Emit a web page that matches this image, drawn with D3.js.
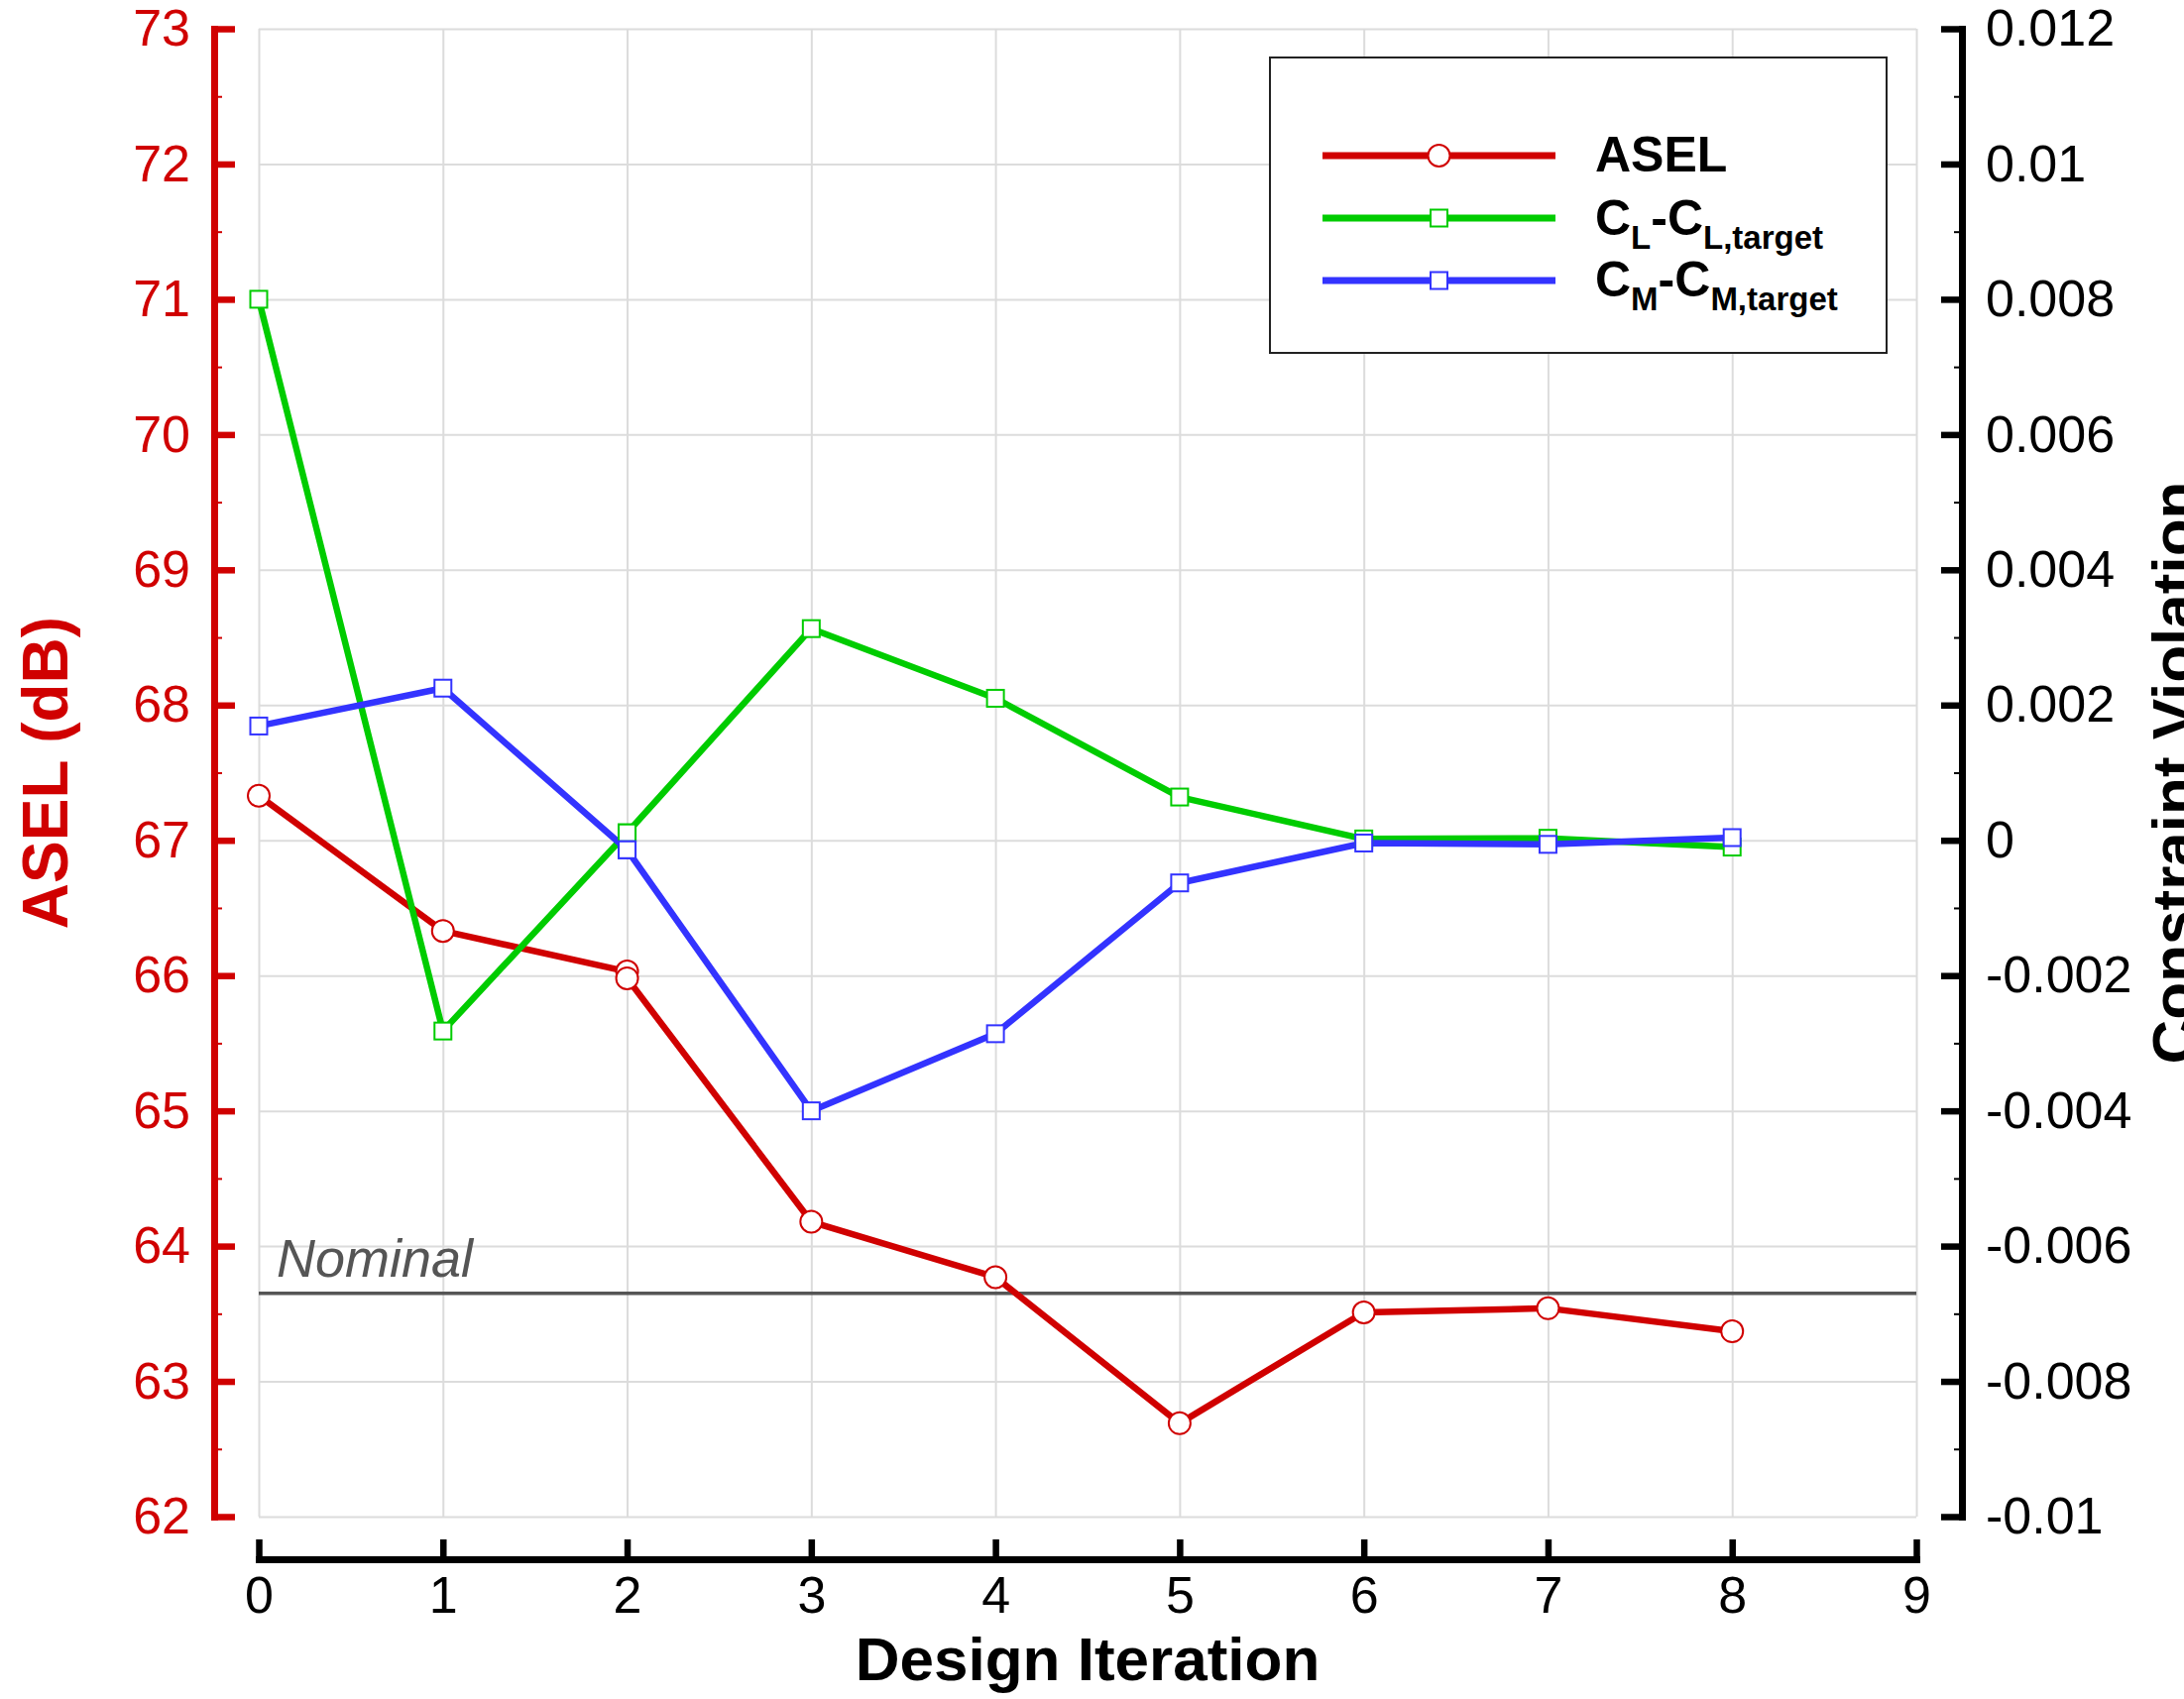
<!DOCTYPE html>
<html><head><meta charset="utf-8">
<script src="https://cdn.jsdelivr.net/npm/d3@7"></script>
<style>
body{margin:0;background:#fff;}
svg{display:block;font-family:"Liberation Sans",Arial,Helvetica,sans-serif;}
</style>
</head><body>
<svg id="chart" width="2203" height="1714"></svg>
<script>
// ---------- data ----------
const iterations = [0, 1, 2, 2, 3, 4, 5, 6, 7, 8];
const aselValues = [67.33, 66.33, 66.03, 65.98, 64.18, 63.77, 62.69, 63.51, 63.54, 63.37];
const clValues   = [0.0080, -0.00282, 0.00011, 0.00011, 0.00313, 0.00210, 0.00064, 0.00002, 0.00003, -0.00010];
const cmValues   = [0.00169, 0.00225, -0.00014, -0.00014, -0.00400, -0.00286, -0.00063, -0.00004, -0.00006, 0.00004];
const nominalAsel = 63.65;

const xTicks = [0, 1, 2, 3, 4, 5, 6, 7, 8, 9];
const leftTicks = [62, 63, 64, 65, 66, 67, 68, 69, 70, 71, 72, 73];
const leftMinorTicks = [62.5, 63.5, 64.5, 65.5, 66.5, 67.5, 68.5, 69.5, 70.5, 71.5, 72.5];
const rightTicks = [-0.01, -0.008, -0.006, -0.004, -0.002, 0, 0.002, 0.004, 0.006, 0.008, 0.01, 0.012];
const rightTickLabels = ["-0.01", "-0.008", "-0.006", "-0.004", "-0.002", "0", "0.002", "0.004", "0.006", "0.008", "0.01", "0.012"];
const rightMinorTicks = [-0.009, -0.007, -0.005, -0.003, -0.001, 0.001, 0.003, 0.005, 0.007, 0.009, 0.011];

const seriesNames = ["ASEL", "CL", "CM"];
const seriesColors = ["#d00000", "#00cc00", "#3333ff"];

// ---------- layout ----------
const svg = d3.select("#chart");
const plotL = 261, plotR = 1933, plotT = 29, plotB = 1530;
const x = d3.scaleLinear().domain([0, 9]).range([plotL, plotR]);
const yL = d3.scaleLinear().domain([62, 73]).range([plotB, plotT]);
const yR = d3.scaleLinear().domain([-0.01, 0.012]).range([plotB, plotT]);

const leftAxisX = 216, rightAxisX = 1979, bottomAxisY = 1573;
const red = "#d00000";

// ---------- grid ----------
const grid = svg.append("g").attr("class", "grid");
grid.append("g").attr("transform", `translate(0,${plotB})`)
  .call(d3.axisBottom(x).tickValues(xTicks).tickSize(-(plotB - plotT)).tickFormat(""))
  .call(g => g.select(".domain").remove())
  .call(g => g.selectAll("line").attr("stroke", "#dcdcdc").attr("stroke-width", 2));
grid.append("g").attr("transform", `translate(${plotL},0)`)
  .call(d3.axisLeft(yL).tickValues(leftTicks).tickSize(-(plotR - plotL)).tickFormat(""))
  .call(g => g.select(".domain").remove())
  .call(g => g.selectAll("line").attr("stroke", "#dcdcdc").attr("stroke-width", 2));

// ---------- nominal ----------
svg.append("line")
  .attr("x1", x(0)).attr("x2", x(9))
  .attr("y1", yL(nominalAsel)).attr("y2", yL(nominalAsel))
  .attr("stroke", "#555").attr("stroke-width", 3.5);
svg.append("text")
  .attr("x", 279).attr("y", yL(nominalAsel) - 17)
  .attr("font-size", 54).attr("font-style", "italic").attr("fill", "#555")
  .text("Nominal");

// ---------- series ----------
const aselData = iterations.map((it, i) => [x(it), yL(aselValues[i])]);
const clData = iterations.map((it, i) => [x(it), yR(clValues[i])]);
const cmData = iterations.map((it, i) => [x(it), yR(cmValues[i])]);
const line = d3.line();
const lw = 6.5;

svg.append("path").attr("d", line(aselData)).attr("fill", "none")
  .attr("stroke", seriesColors[0]).attr("stroke-width", lw).attr("stroke-linejoin", "round");
svg.append("path").attr("d", line(clData)).attr("fill", "none")
  .attr("stroke", seriesColors[1]).attr("stroke-width", lw).attr("stroke-linejoin", "round");
svg.append("path").attr("d", line(cmData)).attr("fill", "none")
  .attr("stroke", seriesColors[2]).attr("stroke-width", lw).attr("stroke-linejoin", "round");

const sq = 17;
svg.append("g").selectAll("circle").data(aselData).join("circle")
  .attr("cx", d => d[0]).attr("cy", d => d[1]).attr("r", 11)
  .attr("fill", "#fff").attr("stroke", seriesColors[0]).attr("stroke-width", 2);
svg.append("g").selectAll("rect").data(clData).join("rect")
  .attr("x", d => d[0] - sq / 2).attr("y", d => d[1] - sq / 2).attr("width", sq).attr("height", sq)
  .attr("fill", "#fff").attr("stroke", seriesColors[1]).attr("stroke-width", 2);
svg.append("g").selectAll("rect").data(cmData).join("rect")
  .attr("x", d => d[0] - sq / 2).attr("y", d => d[1] - sq / 2).attr("width", sq).attr("height", sq)
  .attr("fill", "#fff").attr("stroke", seriesColors[2]).attr("stroke-width", 2);

// ---------- axes ----------
// left axis
const gL = svg.append("g").attr("transform", `translate(${leftAxisX},0)`)
  .call(d3.axisLeft(yL).tickValues(leftTicks).tickSizeInner(-21).tickSizeOuter(0).tickPadding(24).tickFormat(d3.format("d")));
gL.select(".domain").attr("stroke", red).attr("stroke-width", 7).attr("stroke-linecap", "square");
gL.selectAll(".tick line").attr("stroke", red).attr("stroke-width", 6.5);
gL.selectAll(".tick text").attr("fill", red).attr("font-size", 52).attr("font-family", "Liberation Sans, Arial, sans-serif");
svg.append("g").attr("transform", `translate(${leftAxisX},0)`)
  .call(d3.axisLeft(yL).tickValues(leftMinorTicks).tickSize(-8).tickFormat(""))
  .call(g => g.select(".domain").remove())
  .call(g => g.selectAll("line").attr("stroke", red).attr("stroke-width", 2));

// right axis
const gR = svg.append("g").attr("transform", `translate(${rightAxisX},0)`)
  .call(d3.axisRight(yR).tickValues(rightTicks).tickSizeInner(-21).tickSizeOuter(0).tickPadding(24)
    .tickFormat((d, i) => rightTickLabels[i]));
gR.select(".domain").attr("stroke", "#000").attr("stroke-width", 7).attr("stroke-linecap", "square");
gR.selectAll(".tick line").attr("stroke", "#000").attr("stroke-width", 6.5);
gR.selectAll(".tick text").attr("fill", "#000").attr("font-size", 52).attr("font-family", "Liberation Sans, Arial, sans-serif");
svg.append("g").attr("transform", `translate(${rightAxisX},0)`)
  .call(d3.axisRight(yR).tickValues(rightMinorTicks).tickSize(-8).tickFormat(""))
  .call(g => g.select(".domain").remove())
  .call(g => g.selectAll("line").attr("stroke", "#000").attr("stroke-width", 2));

// bottom axis
const gB = svg.append("g").attr("transform", `translate(0,${bottomAxisY})`)
  .call(d3.axisBottom(x).tickValues(xTicks).tickSizeInner(-20).tickSizeOuter(0).tickPadding(17).tickFormat(d3.format("d")));
gB.select(".domain").attr("stroke", "#000").attr("stroke-width", 7).attr("stroke-linecap", "square");
gB.selectAll(".tick line").attr("stroke", "#000").attr("stroke-width", 6.5);
gB.selectAll(".tick text").attr("fill", "#000").attr("font-size", 52).attr("font-family", "Liberation Sans, Arial, sans-serif");

// axis titles
svg.append("text").attr("transform", `translate(${(plotL + plotR) / 2},1695)`)
  .attr("text-anchor", "middle").attr("font-size", 62).attr("font-weight", "bold").attr("fill", "#000")
  .text("Design Iteration");
svg.append("text").attr("transform", `translate(68,${(plotT + plotB) / 2}) rotate(-90)`)
  .attr("text-anchor", "middle").attr("font-size", 64).attr("font-weight", "bold").attr("fill", red)
  .text("ASEL (dB)");
svg.append("text").attr("transform", `translate(2214,${(plotT + plotB) / 2}) rotate(-90)`)
  .attr("text-anchor", "middle").attr("font-size", 62).attr("font-weight", "bold").attr("fill", "#000")
  .text("Constraint Violation");

// ---------- legend ----------
const leg = svg.append("g");
leg.append("rect").attr("x", 1281).attr("y", 58).attr("width", 622).attr("height", 298)
  .attr("fill", "#fff").attr("stroke", "#222").attr("stroke-width", 2);
const legY = [157, 220, 283];
const lx1 = 1334, lx2 = 1569, lmx = (lx1 + lx2) / 2;
seriesNames.forEach((n, i) => {
  leg.append("line").attr("x1", lx1).attr("x2", lx2).attr("y1", legY[i]).attr("y2", legY[i])
    .attr("stroke", seriesColors[i]).attr("stroke-width", 7);
  if (i === 0) {
    leg.append("circle").attr("cx", lmx).attr("cy", legY[i]).attr("r", 11)
      .attr("fill", "#fff").attr("stroke", seriesColors[i]).attr("stroke-width", 2);
  } else {
    leg.append("rect").attr("x", lmx - sq / 2).attr("y", legY[i] - sq / 2).attr("width", sq).attr("height", sq)
      .attr("fill", "#fff").attr("stroke", seriesColors[i]).attr("stroke-width", 2);
  }
});
leg.append("text").attr("x", 1609).attr("y", 173).attr("font-size", 50).attr("font-weight", "bold").text("ASEL");
function subLabel(y, main, sub) {
  const t = leg.append("text").attr("x", 1609).attr("y", y).attr("font-weight", "bold").attr("font-size", 50);
  t.append("tspan").text("C");
  t.append("tspan").attr("font-size", 33).attr("dy", 14).text(sub);
  t.append("tspan").attr("dy", -14).text("-C");
  t.append("tspan").attr("font-size", 33).attr("dy", 14).text(sub + ",target");
}
subLabel(237, "C", "L");
subLabel(299, "C", "M");
</script>
</body></html>
